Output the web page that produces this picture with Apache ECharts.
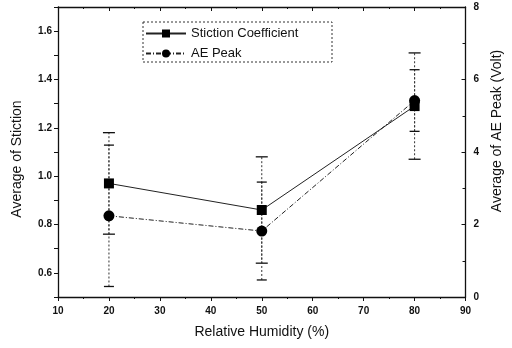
<!DOCTYPE html>
<html>
<head>
<meta charset="utf-8">
<script src="https://cdn.jsdelivr.net/npm/echarts@6/dist/echarts.min.js"></script>
<style>
  html, body { margin: 0; padding: 0; background: #fff; }
  #chart { width: 512px; height: 348px; }
</style>
</head>
<body>
<div id="chart"></div>
<script>
// data
var humidity = [20, 50, 80];
var stiction = [0.97, 0.86, 1.29];
var stictionErr = [0.21, 0.22, 0.22];
var aePeak = [2.24, 1.82, 5.42];
var aeErr = [1.95, 1.35, 0.85];

var myChart = echarts.init(document.getElementById('chart'));

var font = 'Liberation Sans, Arial, sans-serif';
var ink = '#111';

var stictionData = [];
var stictionBars = [];
var aeData = [];
var aeBars = [];
for (var i = 0; i < humidity.length; i++) {
  stictionData.push([humidity[i], stiction[i]]);
  stictionBars.push([humidity[i], stiction[i] - stictionErr[i], stiction[i] + stictionErr[i]]);
  aeData.push([humidity[i], aePeak[i]]);
  aeBars.push([humidity[i], aePeak[i] - aeErr[i], aePeak[i] + aeErr[i]]);
}

function errorBar(cap) {
  return function (params, api) {
    var x = api.value(0);
    var lo = api.coord([x, api.value(1)]);
    var hi = api.coord([x, api.value(2)]);
    return {
      type: 'group',
      children: [
        { type: 'line', shape: { x1: lo[0], y1: lo[1], x2: hi[0], y2: hi[1] },
          style: { stroke: '#333', lineWidth: 1, lineDash: [2, 2] } },
        { type: 'line', shape: { x1: lo[0] - cap, y1: lo[1], x2: lo[0] + cap, y2: lo[1] },
          style: { stroke: ink, lineWidth: 1.3 } },
        { type: 'line', shape: { x1: hi[0] - cap, y1: hi[1], x2: hi[0] + cap, y2: hi[1] },
          style: { stroke: ink, lineWidth: 1.3 } }
      ]
    };
  };
}

var tickLabel = { color: ink, fontFamily: font, fontSize: 10, fontWeight: 'bold' };

myChart.setOption({
  backgroundColor: '#fff',
  animation: false,
  grid: { left: 58, right: 40, top: 7, bottom: 51 },
  graphic: [{
    type: 'rect',
    shape: { x: 143, y: 22, width: 189, height: 40 },
    style: { fill: '#fff', stroke: '#333', lineWidth: 1, lineDash: [2, 2] },
    z: 50
  }],
  legend: {
    data: ['Stiction Coefficient', 'AE Peak'],
    orient: 'vertical',
    left: 145,
    top: 27,
    padding: 0,
    itemWidth: 40,
    itemHeight: 10,
    itemGap: 7,
    z: 60,
    textStyle: { color: ink, fontFamily: font, fontSize: 13 }
  },
  xAxis: [{
    type: 'value',
    min: 10,
    max: 90,
    interval: 10,
    name: 'Relative Humidity (%)',
    nameLocation: 'middle',
    nameGap: 28,
    nameTextStyle: { color: ink, fontFamily: font, fontSize: 14 },
    axisLine: { lineStyle: { color: ink, width: 1.3 } },
    axisTick: { inside: false, length: 4, lineStyle: { color: ink } },
    minorTick: { show: true, splitNumber: 2, length: 2, lineStyle: { color: ink } },
    axisLabel: Object.assign({ margin: 9 }, tickLabel),
    splitLine: { show: false }
  }, {
    type: 'value',
    position: 'top',
    min: 10,
    max: 90,
    interval: 10,
    axisLine: { show: true, lineStyle: { color: ink, width: 1.3 } },
    axisTick: { show: true, inside: true, length: 4, lineStyle: { color: ink } },
    minorTick: { show: true, splitNumber: 2, length: 2, lineStyle: { color: ink } },
    axisLabel: { show: false },
    splitLine: { show: false }
  }],
  yAxis: [{
    type: 'value',
    min: 0.5,
    max: 1.7,
    interval: 0.1,
    name: 'Average of Stiction',
    nameLocation: 'middle',
    nameRotate: 90,
    nameGap: 34,
    nameTextStyle: { color: ink, fontFamily: font, fontSize: 14, padding: [0, 14, 0, 0] },
    axisLine: { show: true, lineStyle: { color: ink, width: 1.3 } },
    axisTick: { show: true, inside: false, length: 4, lineStyle: { color: ink } },
    axisLabel: Object.assign({
      margin: 6,
      formatter: function (v) {
        var k = Math.round(v * 10);
        if (k % 2 !== 0 || k === 0) return '';
        return (k / 10).toFixed(1);
      }
    }, tickLabel),
    splitLine: { show: false }
  }, {
    type: 'value',
    position: 'right',
    min: 0,
    max: 8,
    interval: 2,
    name: 'Average of AE Peak (Volt)',
    nameLocation: 'middle',
    nameRotate: 90,
    nameGap: 24,
    nameTextStyle: { color: ink, fontFamily: font, fontSize: 14, padding: [0, 0, 0, 42] },
    axisLine: { show: true, lineStyle: { color: ink, width: 1.3 } },
    axisTick: { show: true, inside: true, length: 4, lineStyle: { color: ink } },
    minorTick: { show: true, splitNumber: 2, length: 3, lineStyle: { color: ink } },
    axisLabel: Object.assign({ margin: 8 }, tickLabel),
    splitLine: { show: false }
  }],
  series: [{
    name: 'Stiction bars',
    type: 'custom',
    xAxisIndex: 0,
    yAxisIndex: 0,
    renderItem: errorBar(6),
    data: stictionBars,
    z: 1
  }, {
    name: 'AE bars',
    type: 'custom',
    xAxisIndex: 0,
    yAxisIndex: 1,
    renderItem: errorBar(5),
    data: aeBars,
    z: 1
  }, {
    name: 'Stiction Coefficient',
    type: 'line',
    xAxisIndex: 0,
    yAxisIndex: 0,
    data: stictionData,
    symbol: 'rect',
    symbolSize: 10,
    itemStyle: { color: '#000' },
    lineStyle: { color: '#222', width: 1, type: 'solid' },
    z: 3
  }, {
    name: 'AE Peak',
    type: 'line',
    xAxisIndex: 0,
    yAxisIndex: 1,
    data: aeData,
    symbol: 'circle',
    symbolSize: 11,
    itemStyle: { color: '#000' },
    lineStyle: { color: '#222', width: 1, type: [5, 2, 1, 2] },
    z: 3
  }]
});
</script>
</body>
</html>
